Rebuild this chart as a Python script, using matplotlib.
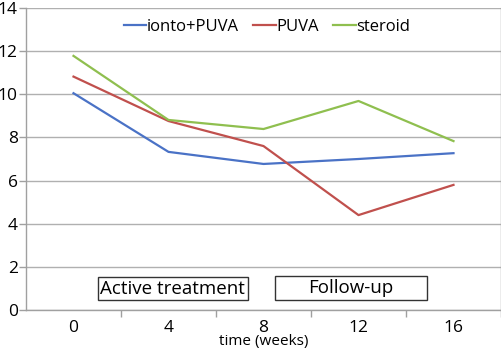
import matplotlib
matplotlib.use("Agg")
import matplotlib.pyplot as plt
from matplotlib.patches import Rectangle

plt.rcParams['font.family'] = ['Open Sans', 'DejaVu Sans']

weeks = [0, 4, 8, 12, 16]
tick_labels = ["0", "4", "8", "12", "16"]
ionto_puva = [10.05, 7.33, 6.77, 7.0, 7.27]
puva = [10.82, 8.76, 7.6, 4.4, 5.8]
steroid = [11.78, 8.81, 8.39, 9.69, 7.83]

fig = plt.figure(figsize=(5.02, 3.53), dpi=100)
ax = fig.add_axes([26/502, 43/353, 475/502, 302/353])

ax.plot(weeks, ionto_puva, color="#4a72c6", lw=1.6, label="ionto+PUVA")
ax.plot(weeks, puva, color="#c0504d", lw=1.6, label="PUVA")
ax.plot(weeks, steroid, color="#8fbf4f", lw=1.6, label="steroid")

ax.set_xlim(-2, 18)
ax.set_ylim(0, 14)
ax.set_yticks(range(0, 15, 2))
ax.set_xticks(weeks)
ax.set_xticklabels(tick_labels)
ax.set_xticks([2, 6, 10, 14, 18], minor=True)
ax.tick_params(axis='x', which='major', length=0, pad=7, labelsize=12.5)
ax.tick_params(axis='x', which='minor', length=5, color="#a0a0a0", width=1)
ax.tick_params(axis='y', length=5, color="#a0a0a0", width=1, labelsize=12.5, pad=1)
ax.grid(axis='y', color="#b0b0b0", lw=1)
ax.set_axisbelow(True)
for s in ['left', 'bottom', 'right']:
    ax.spines[s].set_color("#a0a0a0")
    ax.spines[s].set_linewidth(1)
ax.spines['top'].set_visible(False)

leg = ax.legend(loc='center', bbox_to_anchor=(0.507, 0.937), ncol=3, frameon=False,
                fontsize=12, handlelength=1.35, handletextpad=0.0, columnspacing=0.9)

ax.add_patch(Rectangle((0.1516, 0.0331), 0.3154, 0.0759, transform=ax.transAxes,
                       fill=False, ec="#333333", lw=1))
ax.text(0.309, 0.071, "Active treatment", transform=ax.transAxes, ha='center', va='center', fontsize=13.5)
ax.add_patch(Rectangle((0.524, 0.0331), 0.32, 0.0795, transform=ax.transAxes,
                       fill=False, ec="#333333", lw=1))
ax.text(0.684, 0.073, "Follow-up", transform=ax.transAxes, ha='center', va='center', fontsize=13.5)

fig.text(264/502, 1 - 342/353, "time (weeks)", ha='center', va='center', fontsize=11)

fig.savefig("out.png", dpi=100)
